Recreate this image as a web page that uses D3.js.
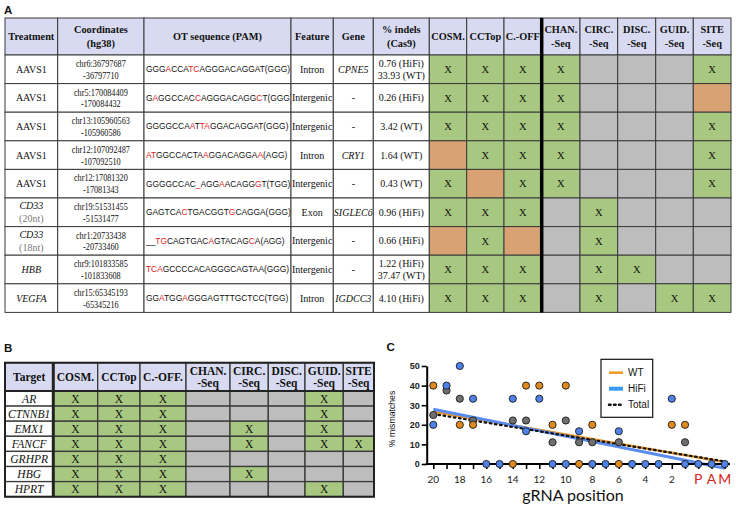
<!DOCTYPE html>
<html><head><meta charset="utf-8">
<script src="https://cdn.jsdelivr.net/npm/d3@7"></script>
<style>body{margin:0;background:#fff}svg{display:block}</style>
</head><body><svg id="c" width="736" height="508"></svg>
<script>
// ---------------- DATA ----------------
// Panel A
const aHeaders = [["Treatment"],["Coordinates","(hg38)"],["OT sequence (PAM)"],["Feature"],["Gene"],["% indels","(Cas9)"],["COSM."],["CCTop"],["C.-OFF"],["CHAN.","-Seq"],["CIRC.","-Seq"],["DISC.","-Seq"],["GUID.","-Seq"],["SITE","-Seq"]];
const aTreatment = ["AAVS1","AAVS1","AAVS1","AAVS1","AAVS1","CD33","CD33","HBB","VEGFA"];
const aTreatmentNote = ["","","","","","(20nt)","(18nt)","",""];
const aTreatmentItalic = [false,false,false,false,false,true,true,true,true];
const aCoords = [["chr6:36797687","-36797710"],["chr5:170084409","-170084432"],["chr13:105960563","-105960586"],["chr12:107092487","-107092510"],["chr12:17081320","-17081343"],["chr19:51531455","-51531477"],["chr1:20733438","-20733460"],["chr9:101833585","-101833608"],["chr15:65345193","-65345216"]];
// [..] marks mismatched (red) bases
const aSeq = ["GGG[A]CCA[TC]AGGGACAGGAT(GGG)","G[A]GGCCAC[C]AGGGACAGG[C]T(GGG)","GGGGCCA[A]T[TA]GGACAGGAT(GGG)","[AT]GGCCACTA[A]GGACAGGA[A](AGG)","GGGGCCAC[_]AGG[A]ACAGG[G]T(TGG)","GAGTCA[C]TGACGGT[G]CAGGA(GGG)","__[TG]CAGTGAC[A]GTACAG[C]A(AGG)","[TCA]GCCCCACAGGGCAGTAA(GGG)","GG[A]TGG[A]GGGAGTTTGCTCC(TGG)"];
const aFeature = ["Intron","Intergenic","Intergenic","Intron","Intergenic","Exon","Intergenic","Intergenic","Intron"];
const aGene = ["CPNE5","-","-","CRY1","-","SIGLEC6","-","-","IGDCC3"];
const aIndels = [["0.76 (HiFi)","33.93 (WT)"],["0.26 (HiFi)"],["3.42 (WT)"],["1.64 (WT)"],["0.43 (WT)"],["0.96 (HiFi)"],["0.66 (HiFi)"],["1.22 (HiFi)","37.47 (WT)"],["4.10 (HiFi)"]];
// X = detected (green), o = missed (orange), g = not assessed (grey)
const aCalls = ["XXXXgggX","XXXXgggo","XXXXgggX","oXXXgggX","XoXXgggX","XXXgXggg","oXogXggg","XXXgXXgg","XXXgXgXX"];

// Panel B
const bHeaders = [["Target"],["COSM."],["CCTop"],["C.-OFF."],["CHAN.","-Seq"],["CIRC.","-Seq"],["DISC.","-Seq"],["GUID.","-Seq"],["SITE","-Seq"]];
const bTargets = ["AR","CTNNB1","EMX1","FANCF","GRHPR","HBG","HPRT"];
const bCalls = ["XXXgggXg","XXXgggXg","XXXgXgXg","XXXgXgXX","XXXggggg","XXXgXggg","XXXgggXg"];

// Panel C
const positions = ["20","19","18","17","16","15","14","13","12","11","10","9","8","7","6","5","4","3","2","1","P","A","M"];
const xLabels = ["20","18","16","14","12","10","8","6","4","2"];
const pamLabels = ["P","A","M"];
const yTicks = [0,10,20,30,40,50];
const wtPoints = [["20",40],["18",20],["17",20],["14",0],["13",40],["12",40],["11",20],["10",40],["9",0],["8",20],["6",0],["2",20],["1",20]];
const hifiPoints = [["20",20],["19",40],["18",50],["17",33.3],["16",0],["15",0],["14",33.3],["13",16.7],["12",33.3],["11",0],["10",0],["9",16.7],["8",0],["7",0],["6",16.7],["5",0],["4",0],["3",0],["2",33.3],["1",0],["P",0],["A",0],["M",0]];
const totalPoints = [["20",25],["19",37.5],["18",33.3],["17",22.2],["14",22.2],["13",22.2],["11",11.1],["10",22.2],["9",11.1],["8",11.1],["6",11.1],["1",11.1]];
const fitWT = [["20",26.7],["M",1.0]];
const fitHiFi = [["20",27.9],["M",-2.2]];
const fitTotal = [["20",25.5],["M",1.3]];
const legendItems = ["WT","HiFi","Total"];

// ---------------- STYLE ----------------
const SERIF = "'Liberation Serif','Times New Roman',serif";
const SANS = "'Liberation Sans',Arial,sans-serif";
const GILL = "Lato,'Open Sans',sans-serif";
const C_HEAD = "#d7daf0", C_GREEN = "#a8c881", C_ORANGE = "#d9a273", C_GREY = "#bdbdbd";
const C_LINE = "#3a3a3a";
const callFill = c => c === "X" ? C_GREEN : c === "o" ? C_ORANGE : C_GREY;

const svg = d3.select("#c");
const defs = svg.append("defs");

// panel labels
svg.selectAll("text.panel").data([["A",4,13.5],["B",4,352],["C",386.5,351]]).join("text")
  .attr("class","panel").attr("x",d=>d[1]).attr("y",d=>d[2]).text(d=>d[0])
  .attr("font-family",SANS).attr("font-weight","bold").attr("font-size",11.5).attr("fill","#111");

// ---------------- TABLE A ----------------
const colA = [5,57.7,144,291,333.3,373.3,429.3,466.7,504,541.7,580,617.7,655.7,693.3,731];
const rowA = [18,55,83.6,112.2,140.8,169.4,198,226.6,255.2,283.8,312.4];
const gA = svg.append("g");
colA.slice(0,-1).forEach((x0,i)=>{
  defs.append("clipPath").attr("id","clipA"+i).append("rect")
    .attr("x",x0+0.5).attr("y",rowA[0]).attr("width",colA[i+1]-x0-1).attr("height",rowA[rowA.length-1]-rowA[0]);
});
// header
aHeaders.forEach((h,i)=>{
  const x0=colA[i], x1=colA[i+1];
  gA.append("rect").attr("x",x0).attr("y",rowA[0]).attr("width",x1-x0).attr("height",rowA[1]-rowA[0])
    .attr("fill",C_HEAD).attr("stroke",C_LINE).attr("stroke-width",1);
  const cy=(rowA[0]+rowA[1])/2, sp=13.5;
  h.forEach((t,k)=>{
    gA.append("text").attr("x",(x0+x1)/2).attr("y",cy+(k-(h.length-1)/2)*sp).attr("dy","0.35em")
      .attr("text-anchor","middle").attr("font-family",SERIF).attr("font-weight","bold").attr("font-size",10.3)
      .attr("fill","#111").attr("clip-path","url(#clipA"+i+")").text(t);
  });
});
function segs(s){const out=[];const re=/\[([^\]]+)\]|([^\[]+)/g;let m;while((m=re.exec(s)))out.push(m[1]?{t:m[1],red:true}:{t:m[2],red:false});return out;}
function multi(g,lines,cx,cy,sp,opts,clip){
  lines.forEach((t,k)=>{
    const tx=g.append("text").attr("x",cx).attr("y",cy+(k-(lines.length-1)/2)*sp).attr("dy","0.35em")
      .attr("text-anchor","middle").attr("font-family",SERIF).attr("font-size",opts.size||10).attr("fill",opts.fill||"#111")
      .attr("font-style",opts.italic?"italic":"normal").text(t);
    if(clip!==undefined) tx.attr("clip-path","url(#clipA"+clip+")");
  });
}
aTreatment.forEach((tr,r)=>{
  const y0=rowA[r+1], y1=rowA[r+2], cy=(y0+y1)/2;
  for(let i=0;i<14;i++){
    const fill = i<6 ? "#fff" : callFill(aCalls[r][i-6]);
    gA.append("rect").attr("x",colA[i]).attr("y",y0).attr("width",colA[i+1]-colA[i]).attr("height",y1-y0)
      .attr("fill",fill).attr("stroke",C_LINE).attr("stroke-width",1);
    if(i>=6 && aCalls[r][i-6]==="X"){
      gA.append("text").attr("x",(colA[i]+colA[i+1])/2).attr("y",cy).attr("dy","0.35em").attr("text-anchor","middle")
        .attr("font-family",SERIF).attr("font-size",10.5).attr("fill","#111").text("X");
    }
  }
  const cx = i => (colA[i]+colA[i+1])/2;
  // treatment
  if(aTreatmentNote[r]){
    gA.append("text").attr("x",cx(0)).attr("y",cy-6.5).attr("dy","0.35em").attr("text-anchor","middle")
      .attr("font-family",SERIF).attr("font-size",10).attr("font-style","italic").attr("fill","#111").text(tr);
    gA.append("text").attr("x",cx(0)).attr("y",cy+6.5).attr("dy","0.35em").attr("text-anchor","middle")
      .attr("font-family",SERIF).attr("font-size",10).attr("fill","#7a7a7a").text(aTreatmentNote[r]);
  } else {
    multi(gA,[tr],cx(0),cy,11.7,{italic:aTreatmentItalic[r]});
  }
  // coordinates (condensed)
  aCoords[r].forEach((t,k)=>{
    gA.append("text").attr("transform",`translate(${cx(1)},${cy+(k-0.5)*11.7}) scale(0.8,1)`).attr("dy","0.35em")
      .attr("text-anchor","middle").attr("font-family",SERIF).attr("font-size",10.3).attr("fill","#111").text(t);
  });
  // sequence
  gA.append("text").attr("x",colA[2]+2).attr("y",cy).attr("dy","0.35em").attr("font-family",SANS).attr("font-size",8.4)
    .attr("clip-path","url(#clipA2)")
    .selectAll("tspan").data(segs(aSeq[r])).join("tspan").attr("fill",d=>d.red?"#e0231e":"#111").text(d=>d.t);
  multi(gA,[aFeature[r]],cx(3),cy,11.7,{},3);
  multi(gA,[aGene[r]],cx(4),cy,11.7,{italic:aGene[r]!=="-"},4);
  multi(gA,aIndels[r],cx(5),cy,11.7,{},5);
});
gA.append("line").attr("x1",colA[9]).attr("x2",colA[9]).attr("y1",rowA[0]).attr("y2",rowA[rowA.length-1])
  .attr("stroke","#000").attr("stroke-width",3.5);

// ---------------- TABLE B ----------------
const colB = [5,53.3,97.7,140,186,230,268.3,305,343.3,374];
const rowB = [362.7,391,406.1,421.2,436.3,451.4,466.5,481.6,496.7];
const gB = svg.append("g");
bHeaders.forEach((h,i)=>{
  const x0=colB[i], x1=colB[i+1];
  gB.append("rect").attr("x",x0).attr("y",rowB[0]).attr("width",x1-x0).attr("height",rowB[1]-rowB[0])
    .attr("fill",C_HEAD).attr("stroke",C_LINE).attr("stroke-width",1.3);
  const cy=(rowB[0]+rowB[1])/2;
  h.forEach((t,k)=>{
    gB.append("text").attr("x",(x0+x1)/2).attr("y",cy+(k-(h.length-1)/2)*11.5).attr("dy","0.35em")
      .attr("text-anchor","middle").attr("font-family",SERIF).attr("font-weight","bold").attr("font-size",11.5)
      .attr("fill","#111").text(t);
  });
});
bTargets.forEach((tg,r)=>{
  const y0=rowB[r+1], y1=rowB[r+2], cy=(y0+y1)/2;
  for(let i=0;i<9;i++){
    const fill = i===0 ? "#fff" : callFill(bCalls[r][i-1]);
    gB.append("rect").attr("x",colB[i]).attr("y",y0).attr("width",colB[i+1]-colB[i]).attr("height",y1-y0)
      .attr("fill",fill).attr("stroke",C_LINE).attr("stroke-width",1.3);
    const txt = i===0 ? tg : (bCalls[r][i-1]==="X" ? "X" : "");
    if(txt) gB.append("text").attr("x",(colB[i]+colB[i+1])/2).attr("y",cy).attr("dy","0.35em").attr("text-anchor","middle")
      .attr("font-family",SERIF).attr("font-size",11.5).attr("font-style",i===0?"italic":"normal").attr("fill","#111").text(txt);
  }
});
gB.append("rect").attr("x",colB[0]).attr("y",rowB[0]).attr("width",colB[colB.length-1]-colB[0]).attr("height",rowB[rowB.length-1]-rowB[0])
  .attr("fill","none").attr("stroke","#222").attr("stroke-width",2);
gB.append("line").attr("x1",colB[1]).attr("x2",colB[1]).attr("y1",rowB[0]).attr("y2",rowB[rowB.length-1]).attr("stroke","#222").attr("stroke-width",3);
gB.append("line").attr("x1",colB[0]).attr("x2",colB[colB.length-1]).attr("y1",rowB[1]).attr("y2",rowB[1]).attr("stroke","#222").attr("stroke-width",2);

// ---------------- CHART C ----------------
const x = d3.scalePoint().domain(positions).range([433.3,724.8]);
const y = d3.scaleLinear().domain([0,50]).range([464,366]);
const gC = svg.append("g");
const axisX0 = 426.7;

// fit lines
const line = d3.line().x(d=>x(d[0])).y(d=>y(d[1]));
gC.append("path").datum(fitWT).attr("d",line).attr("fill","none").attr("stroke","#e8962c").attr("stroke-width",2.6);
gC.append("path").datum(fitHiFi).attr("d",line).attr("fill","none").attr("stroke","#5a8cf0").attr("stroke-width",3);
gC.append("path").datum(fitTotal).attr("d",line).attr("fill","none").attr("stroke","#111").attr("stroke-width",2.2)
  .attr("stroke-dasharray","1.6,3.6").attr("stroke-linecap","round");

// axes
const yAxis = gC.append("g").attr("transform",`translate(${axisX0},0)`)
  .call(d3.axisLeft(y).tickValues(yTicks).tickSize(5).tickSizeOuter(0).tickPadding(2));
yAxis.select(".domain").attr("stroke","#000").attr("stroke-width",2);
yAxis.selectAll(".tick line").attr("stroke","#000").attr("stroke-width",1.6);
yAxis.selectAll(".tick text").attr("font-family",SANS).attr("font-weight","bold").attr("font-size",9).attr("fill","#222");

const xAxis = gC.append("g").attr("transform","translate(0,464)")
  .call(d3.axisBottom(x).tickSize(5).tickSizeOuter(0).tickFormat(()=>""));
xAxis.select(".domain").remove();
xAxis.selectAll(".tick line").attr("stroke","#000").attr("stroke-width",1.6);
gC.append("line").attr("x1",axisX0-1).attr("x2",730).attr("y1",y(0)).attr("y2",y(0)).attr("stroke","#000").attr("stroke-width",2);

gC.selectAll("text.xl").data(xLabels).join("text").attr("class","xl")
  .attr("x",d=>x(d)).attr("y",483).attr("text-anchor","middle").attr("font-family",GILL).attr("font-size",10).attr("fill","#222").text(d=>d);
gC.selectAll("text.pam").data(pamLabels).join("text").attr("class","pam")
  .attr("x",d=>x(d)).attr("y",483.5).attr("text-anchor","middle").attr("font-family",GILL).attr("font-size",14)
  .attr("fill","#d42424").text(d=>d);

gC.append("text").attr("x",573).attr("y",501).attr("text-anchor","middle").attr("font-family",GILL).attr("font-size",16)
  .attr("fill","#111").text("gRNA position");
gC.append("text").attr("transform","translate(394.5,419) rotate(-90)").attr("text-anchor","middle")
  .attr("font-family",SANS).attr("font-size",8.7).attr("fill","#111").text("% mismatches");

// points
const drawPts = (data,fill) => gC.append("g").selectAll("circle").data(data).join("circle")
  .attr("cx",d=>x(d[0])).attr("cy",d=>y(d[1])).attr("r",3.6).attr("fill",fill).attr("stroke","#1a1a1a").attr("stroke-width",0.9);
drawPts(totalPoints,"#6f6f6f");
drawPts(wtPoints,"#e0891c");
drawPts(hifiPoints,"#4f82e8");

// legend
const lg = gC.append("g");
lg.append("rect").attr("x",601).attr("y",359.3).attr("width",51.7).attr("height",58).attr("fill","#fff").attr("stroke","#111").attr("stroke-width",1.2);
const lgStyles = [{c:"#f29a22",w:2.5,dash:null},{c:"#3d9bf5",w:4,dash:null},{c:"#111",w:2.5,dash:"1.6,3.4"}];
legendItems.forEach((t,i)=>{
  const yy = 372.7 + i*16;
  const l = lg.append("line").attr("x1",609).attr("x2",623).attr("y1",yy).attr("y2",yy).attr("stroke",lgStyles[i].c).attr("stroke-width",lgStyles[i].w);
  if(lgStyles[i].dash) l.attr("stroke-dasharray",lgStyles[i].dash).attr("stroke-linecap","round");
  lg.append("text").attr("x",628).attr("y",yy).attr("dy","0.35em").attr("font-family",SANS).attr("font-size",10).attr("fill","#111").text(t);
});
</script></body></html>
